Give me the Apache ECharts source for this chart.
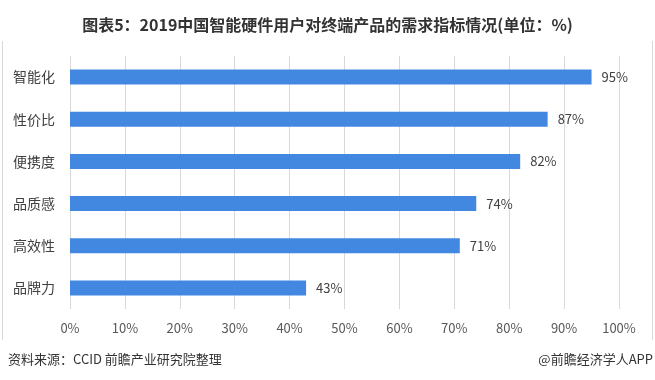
<!DOCTYPE html>
<html><head><meta charset="utf-8">
<script src="https://cdn.jsdelivr.net/npm/echarts@6/dist/echarts.min.js"></script>
<style>html,body{margin:0;padding:0;background:#fff}#c{width:655px;height:380px}</style>
</head><body><div id="c"></div>
<script>
var categories = ['智能化','性价比','便携度','品质感','高效性','品牌力'];
var values = [95, 87, 82, 74, 71, 43];
var titleText = '图表5：2019中国智能硬件用户对终端产品的需求指标情况(单位：%)';
var sourceText = '资料来源：CCID 前瞻产业研究院整理';
var brandText = '@前瞻经济学人APP';

var chart = echarts.init(document.getElementById('c'));
chart.setOption({
  animation: false,
  backgroundColor: '#fff',
  title: {
    text: titleText, left: 'center', top: 12,
    textStyle: {fontFamily: 'Noto Sans CJK SC', fontWeight: 'bold', fontSize: 16, color: '#333'}
  },
  grid: {left: 70, right: 36, top: 56, bottom: 71},
  xAxis: {
    type: 'value', min: 0, max: 100, interval: 10,
    axisLabel: {formatter: '{value}%', color: '#595959', fontSize: 13, margin: 13, fontFamily: 'Noto Sans CJK SC'},
    splitLine: {lineStyle: {color: '#d9d9d9'}},
    axisLine: {show: false}, axisTick: {show: false}
  },
  yAxis: {
    type: 'category', inverse: true, data: categories,
    axisLabel: {color: '#404040', fontSize: 14, margin: 15, fontFamily: 'Noto Sans CJK SC'},
    axisLine: {show: false}, axisTick: {show: false}
  },
  series: [{
    type: 'bar', data: values, barWidth: 15,
    itemStyle: {color: '#4287e0'},
    label: {show: true, position: 'right', distance: 10, formatter: '{c}%', color: '#404040', fontSize: 13, fontFamily: 'Noto Sans CJK SC'}
  }],
  graphic: [
    {type: 'line', shape: {x1: 2.5, y1: 41, x2: 2.5, y2: 340}, style: {stroke: '#d9d9d9', lineWidth: 1}},
    {type: 'line', shape: {x1: 652.5, y1: 41, x2: 652.5, y2: 340}, style: {stroke: '#d9d9d9', lineWidth: 1}},
    {type: 'text', left: 8, top: 353, style: {text: sourceText, fontSize: 13, fill: '#333', fontFamily: 'Noto Sans CJK SC'}},
    {type: 'text', right: 2, top: 353, style: {text: brandText, fontSize: 13, fill: '#333', fontFamily: 'Noto Sans CJK SC'}}
  ]
});
</script></body></html>
